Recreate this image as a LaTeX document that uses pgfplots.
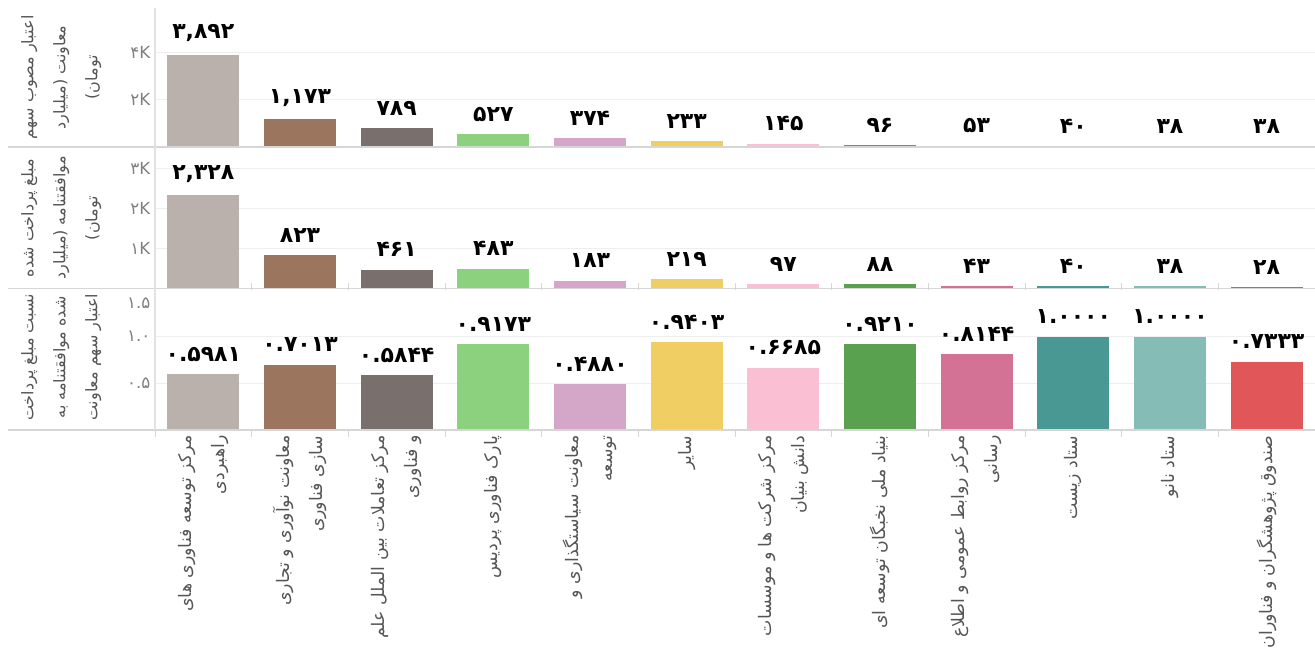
\documentclass[border=0pt]{standalone}
\usepackage{pgfplots}
\pgfplotsset{compat=1.18}
\usepackage{pgfplotstable}
\usepackage{fontspec}
\setmainfont{DejaVu Sans}
\newfontfamily\fa[Script=Arabic]{DejaVu Sans}
\TeXXeTstate=1
\newcommand{\R}[1]{\beginR #1\endR}

\definecolor{tA}{HTML}{BAB0AC}
\definecolor{tB}{HTML}{9C755F}
\definecolor{tC}{HTML}{79706E}
\definecolor{tD}{HTML}{8CD17D}
\definecolor{tE}{HTML}{D4A6C8}
\definecolor{tF}{HTML}{F1CE63}
\definecolor{tG}{HTML}{FABFD2}
\definecolor{tH}{HTML}{59A14F}
\definecolor{tI}{HTML}{D37295}
\definecolor{tJ}{HTML}{499894}
\definecolor{tK}{HTML}{86BCB6}
\definecolor{tL}{HTML}{E15759}
\definecolor{sep}{HTML}{D6D6D6}
\definecolor{grd}{HTML}{EEEEEE}
\definecolor{txt}{HTML}{555555}
\definecolor{tck}{HTML}{808080}

\pgfplotscreateplotcyclelist{tab}{
{fill=tA,draw=none},{fill=tB,draw=none},{fill=tC,draw=none},{fill=tD,draw=none},
{fill=tE,draw=none},{fill=tF,draw=none},{fill=tG,draw=none},{fill=tH,draw=none},
{fill=tI,draw=none},{fill=tJ,draw=none},{fill=tK,draw=none},{fill=tL,draw=none}}

% x: category, a: approved credit, b: paid amount, r: ratio
\pgfplotstableread{
x  a     la      b     lb      r       lr
0  3892  ۳,۸۹۲   2328  ۲,۳۲۸   0.5981  ۰.۵۹۸۱
1  1173  ۱,۱۷۳   823   ۸۲۳     0.7013  ۰.۷۰۱۳
2  789   ۷۸۹     461   ۴۶۱     0.5844  ۰.۵۸۴۴
3  527   ۵۲۷     483   ۴۸۳     0.9173  ۰.۹۱۷۳
4  374   ۳۷۴     183   ۱۸۳     0.4880  ۰.۴۸۸۰
5  233   ۲۳۳     219   ۲۱۹     0.9403  ۰.۹۴۰۳
6  145   ۱۴۵     97    ۹۷      0.6685  ۰.۶۶۸۵
7  96    ۹۶      88    ۸۸      0.9210  ۰.۹۲۱۰
8  53    ۵۳      43    ۴۳      0.8144  ۰.۸۱۴۴
9  40    ۴۰      40    ۴۰      1.0000  ۱.۰۰۰۰
10 38    ۳۸      38    ۳۸      1.0000  ۱.۰۰۰۰
11 38    ۳۸      28    ۲۸      0.7333  ۰.۷۳۳۳
}\data

\pgfplotsset{
  panel/.style={
    ybar, scale only axis, width=870pt,
    xmin=-0.5, xmax=11.5, ymin=0,
    cycle list name=tab,
    axis line style={draw=none},
    major tick length=0pt,
    ymajorgrids, major grid style={grd, line width=0.6pt},
    yticklabel style={font=\fa\fontsize{12.5}{14}\selectfont, text=tck},
    point meta=explicit symbolic,
    nodes near coords,
    nodes near coords style={font=\fa\bfseries\fontsize{16.5}{19}\selectfont, text=black, anchor=south, yshift=6pt},
    clip=false,
  },
}

\begin{document}
\begin{tikzpicture}
\useasboundingbox (0,0) rectangle (986.25pt,-485.25pt);

% panel 1
\begin{axis}[panel, at={(116.25pt,-110.25pt)}, anchor=south west, height=104.25pt,
  ymax=5853, ytick={2000,4000}, yticklabels={۲K,۴K}, xtick=\empty]
\pgfplotsinvokeforeach{0,...,11}{
  \addplot+[bar width=54pt, bar shift=0pt, restrict x to domain=#1:#1] table[x=x, y=a, meta=la] {\data};
}
\end{axis}

% panel 2
\begin{axis}[panel, at={(116.25pt,-216pt)}, anchor=south west, height=105pt,
  ymax=3500, ytick={1000,2000,3000}, yticklabels={۱K,۲K,۳K}, xtick=\empty]
\pgfplotsinvokeforeach{0,...,11}{
  \addplot+[bar width=54pt, bar shift=0pt, restrict x to domain=#1:#1] table[x=x, y=b, meta=lb] {\data};
}
\end{axis}

% panel 3
\begin{axis}[panel, at={(116.25pt,-322.5pt)}, anchor=south west, height=105pt,
  ymax=1.5, ytick={0.5,1}, yticklabels={۰.۵,۱.۰},
  extra y ticks={1.5}, extra y tick labels={۱.۵},
  extra y tick style={ymajorgrids=false, yticklabel style={yshift=-10pt}},
  xtick={0,...,11},
  minor xtick={-0.5,0.5,...,11.5}, minor tick length=5pt, tick align=outside,
  every minor tick/.append style={sep, line width=0.6pt},
  xticklabel style={rotate=90, anchor=east, align=right, text=txt,
    font=\fa\fontsize{13}{25}\selectfont, inner sep=4pt},
  xticklabels={
    {\R{مرکز توسعه فناوری های}\\\R{راهبردی}},
    {\R{معاونت نوآوری و تجاری}\\\R{سازی فناوری}},
    {\R{مرکز تعاملات بین الملل علم}\\\R{و فناوری}},
    {\R{پارک فناوری پردیس}},
    {\R{معاونت سیاستگذاری و}\\\R{توسعه}},
    {\R{سایر}},
    {\R{مرکز شرکت ها و موسسات}\\\R{دانش بنیان}},
    {\R{بنیاد ملی نخبگان توسعه ای}},
    {\R{مرکز روابط عمومی و اطلاع}\\\R{رسانی}},
    {\R{ستاد زیست}},
    {\R{ستاد نانو}},
    {\R{صندوق پژوهشگران و فناوران}}},
]
\pgfplotsinvokeforeach{0,...,11}{
  \addplot+[bar width=54pt, bar shift=0pt, restrict x to domain=#1:#1] table[x=x, y=r, meta=lr] {\data};
}
\end{axis}

% frame lines
\draw[sep, line width=0.8pt] (6pt,-110.25pt) -- (986.25pt,-110.25pt);
\draw[sep, line width=0.8pt] (6pt,-216.5pt) -- (986.25pt,-216.5pt);
\draw[sep, line width=0.8pt] (6pt,-322.5pt) -- (986.25pt,-322.5pt);
\draw[sep!70, line width=0.8pt] (116.25pt,-6pt) -- (116.25pt,-322.5pt);

% row titles
\begin{scope}[every node/.style={rotate=90, align=center, text=txt, font=\fa\fontsize{12}{24}\selectfont}]
\node at (46pt,-58pt) {\R{اعتبار مصوب سهم}\\\R{معاونت (میلیارد}\\\R{تومان)}};
\node at (46pt,-163.5pt) {\R{مبلغ پرداخت شده}\\\R{موافقتنامه (میلیارد}\\\R{تومان)}};
\node at (46pt,-268pt) {\R{نسبت مبلغ پرداخت}\\\R{شده موافقتنامه به}\\\R{اعتبار سهم معاونت}};
\end{scope}
\end{tikzpicture}
\end{document}
